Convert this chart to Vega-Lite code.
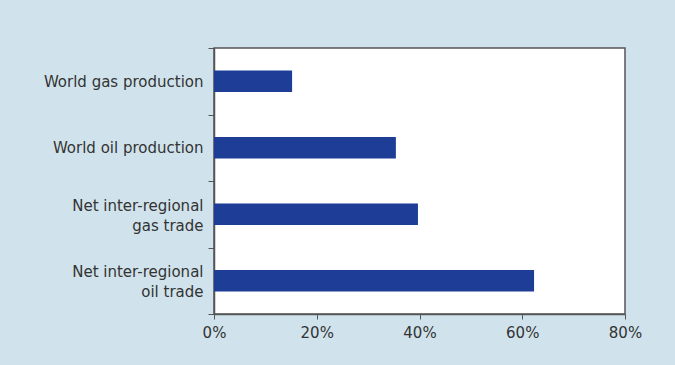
{
  "$schema": "https://vega.github.io/schema/vega-lite/v6.json",
  "autosize": "none",
  "width": 411,
  "height": 266,
  "padding": {"left": 214, "top": 48, "right": 50, "bottom": 51},
  "background": "#d0e3ec",
  "data": {
    "values": [
      {"category": "World gas production", "share": 15.2},
      {"category": "World oil production", "share": 35.4},
      {"category": "Net inter-regional|gas trade", "share": 39.7},
      {"category": "Net inter-regional|oil trade", "share": 62.3}
    ]
  },
  "mark": {"type": "bar", "color": "#1d3d97", "height": {"band": 0.32}},
  "encoding": {
    "y": {
      "field": "category",
      "type": "nominal",
      "sort": null,
      "scale": {"paddingInner": 0, "paddingOuter": 0},
      "axis": {
        "title": null,
        "tickBand": "extent",
        "tickSize": 6,
        "tickColor": "#555555",
        "domainColor": "#555555",
        "domainWidth": 1.5,
        "labelPadding": 5,
        "labelFont": "DejaVu Sans",
        "labelFontSize": 15,
        "labelColor": "#333333",
        "labelLineHeight": 20,
        "labelOffset": {"condition": {"test": "indexof(datum.label, '|') >= 0", "value": -9}, "value": 0},
        "labelExpr": "split(datum.label, '|')"
      }
    },
    "x": {
      "field": "share",
      "type": "quantitative",
      "scale": {"domain": [0, 80], "nice": false},
      "axis": {
        "title": null,
        "values": [0, 20, 40, 60, 80],
        "labelExpr": "datum.value + '%'",
        "grid": false,
        "tickSize": 5,
        "tickColor": "#555555",
        "domainColor": "#555555",
        "domainWidth": 1.5,
        "labelPadding": 6,
        "labelFont": "DejaVu Sans",
        "labelFontSize": 15,
        "labelColor": "#333333",
        "labelFlush": false
      }
    }
  },
  "config": {
    "view": {"stroke": "#555555", "strokeWidth": 1.5, "fill": "#ffffff"}
  }
}
